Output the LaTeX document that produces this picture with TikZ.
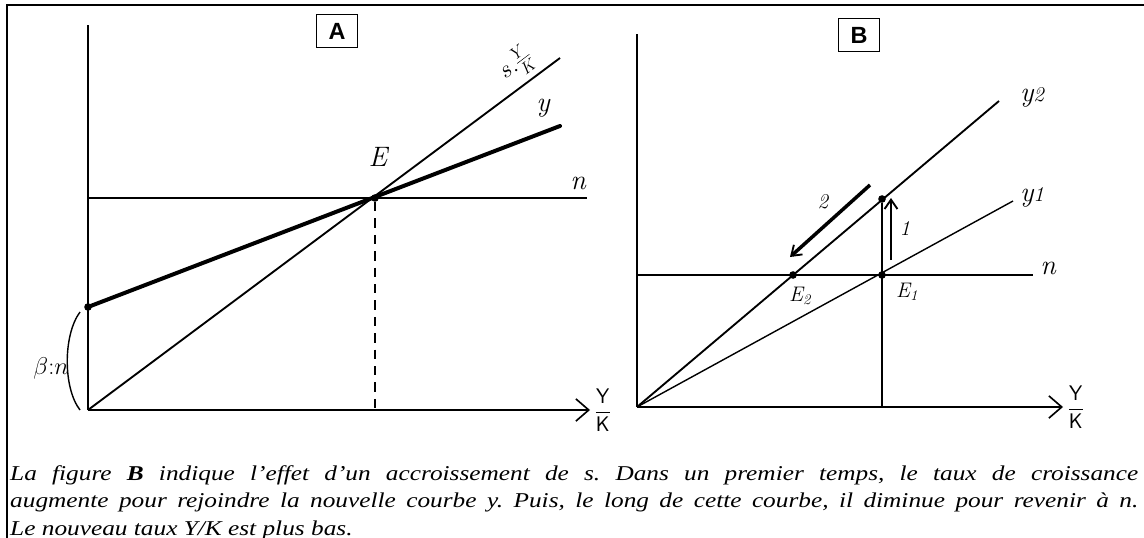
\documentclass[tikz,border=0pt]{standalone}
\usepackage{fontspec}
\newfontfamily\capfont[FakeStretch=1.2]{Liberation Serif}
\newfontfamily\tagfont{Liberation Sans}
\usetikzlibrary{arrows.meta,positioning,calc}
\tikzset{
  frame/.style={line width=2.4pt},
  axisline/.style={line width=1.6pt},
  axis/.style={line width=1.6pt, -{Straight Barb[length=11pt,width=19pt,line width=1.4pt]}},
  thinline/.style={line width=1.2pt},
  midline/.style={line width=1.6pt},
  heavyline/.style={line width=3.4pt, line cap=round},
  dashline/.style={line width=1.3pt, dash pattern=on 8pt off 6pt},
  dot/.style={circle, fill=black, inner sep=0pt, minimum size=6.5pt},
  hand/.style={font=\fontsize{24}{28}\selectfont\itshape, inner sep=1pt},
  smallhand/.style={font=\fontsize{18}{21}\selectfont\itshape, inner sep=1pt},
  fracLabel/.style={font=\fontsize{18}{22}\selectfont, inner sep=1pt},
  panelTag/.style={draw, line width=1.2pt, inner sep=0pt, minimum width=1.23cm,
    minimum height=0.98cm, font=\tagfont\bfseries\fontsize{20}{24}\selectfont},
  moveArrow/.style={line width=2.2pt, -{Straight Barb[length=8pt,width=11pt,line width=1.6pt]}},
  caption/.style={font=\capfont\itshape\frenchspacing,
    align=justify, text width=33.84cm, inner sep=0pt}
}
\begin{document}
\begin{tikzpicture}[x=0.03cm,y=-0.03cm]
\useasboundingbox (0,0) rectangle (1144,538);

% Frame
\coordinate (frameTL) at (7,5);
\coordinate (frameTR) at (1144,5);
\coordinate (frameBL) at (7,538);
\draw[frame] (frameBL) -- (frameTL) -- (frameTR);

% Panel A
\node[panelTag] (tagA) at (337,31) {A};
\coordinate (Ao) at (88,410);
\coordinate (Atop) at (88,25);
\coordinate (Aright) at (590,410);
\draw[axisline] (Ao) -- (Atop);
\draw[axis] (Ao) -- (Aright);
\node[fracLabel, anchor=west] (AxLab) at (593,410) {$\displaystyle\frac{\mathsf{Y}}{\mathsf{K}}$};

\node[dot] (AE) at (375,198) {};
\node[dot] (Ad) at (88,307) {};
\coordinate (AnEnd) at (587,198);
\coordinate (Asy) at (560,58);
\coordinate (Ay) at (560,126);

\draw[midline] (Ao |- AE) -- (AnEnd);
\draw[midline] (Ao) -- (Asy);
\draw[heavyline] (Ad.center) -- (Ay);
\draw[dashline] (AE) -- (AE |- Ao);

\node[hand] (AElab) at (378,157) {E};
\node[hand] (Anlab) at (578,183) {n};
\node[hand] (Aylab) at (543,108) {y};
\node[hand, rotate=37, font=\fontsize{20}{24}\selectfont] (Asylab) at (516,64) {$s.\frac{Y}{K}$};

\coordinate (brTop) at (80,312);
\coordinate (brBot) at (80,410);
\draw[thinline] (brTop) .. controls (63,335) and (63,388) .. (brBot);
\node[hand, font=\fontsize{20}{24}\selectfont] (beta) at (51,368) {$\beta{:}n$};

% Panel B
\node[panelTag] (tagB) at (859,35) {B};
\coordinate (Bo) at (637,407);
\coordinate (Btop) at (637,34);
\coordinate (Bright) at (1063,407);
\draw[axisline] (Bo) -- (Btop);
\draw[axis] (Bo) -- (Bright);
\node[fracLabel, anchor=west] (BxLab) at (1066,407) {$\displaystyle\frac{\mathsf{Y}}{\mathsf{K}}$};

\node[dot] (E2) at (793,275) {};
\node[dot] (E1) at (882,275) {};
\node[dot] (Bjump) at (882,199) {};
\coordinate (BnEnd) at (1033,275);
\coordinate (Bytwo) at (999,101);
\coordinate (Byone) at (1013,201);

\draw[axisline] (Bo |- E1) -- (BnEnd);
\draw[midline] (Bo) -- (Bytwo);
\draw[thinline] (Bo) -- (Byone);
\draw[thinline] (E1 |- Bo) -- (Bjump);

\coordinate (oneFrom) at (891,260);
\coordinate (oneTo) at (891,198);
\draw[moveArrow, line width=1.8pt] (oneFrom) -- (oneTo);
\coordinate (twoFrom) at (870,185);
\coordinate (twoTo) at (790,257);
\draw[moveArrow, line width=3pt] (twoFrom) -- (twoTo);

\node[smallhand] (oneLab) at (905,228) {1};
\node[smallhand] (twoLab) at (823,202) {2};
\node[smallhand] (E2lab) at (800,296) {E\textsubscript{2}};
\node[smallhand] (E1lab) at (907,292) {E\textsubscript{1}};
\node[hand] (Bnlab) at (1048,268) {n};
\node[hand] (Bytwolab) at (1032,97) {y{\fontsize{18}{20}\selectfont 2}};
\node[hand] (Byonelab) at (1032,197) {y{\fontsize{18}{20}\selectfont 1}};

% Caption
\node[caption, anchor=north west] (cap) at (10,465)
  {\fontsize{18}{23.5}\selectfont
   La figure \textbf{B} indique l’effet d’un accroissement de s. Dans un premier temps, le taux de croissance\linebreak
   augmente pour rejoindre la nouvelle courbe y. Puis, le long de cette courbe, il diminue pour revenir à n.\linebreak
   Le nouveau taux Y/K est plus bas.\par};

\end{tikzpicture}
\end{document}
